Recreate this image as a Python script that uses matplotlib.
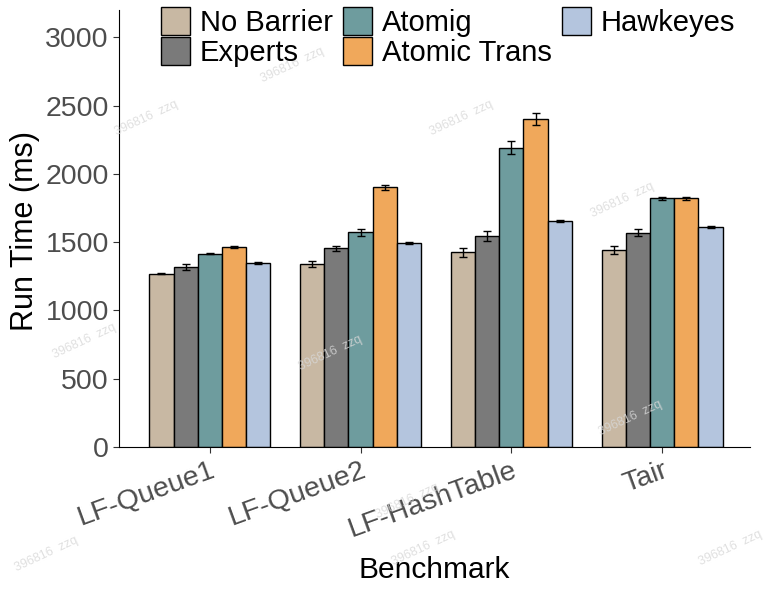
import numpy as np
import matplotlib
matplotlib.use("Agg")
import matplotlib.pyplot as plt

plt.rcParams['font.family'] = ['Liberation Sans', 'DejaVu Sans']

benchmarks = ["LF-Queue1", "LF-Queue2", "LF-HashTable", "Tair"]
series = ["No Barrier", "Experts", "Atomig", "Atomic Trans", "Hawkeyes"]
colors = ["#C8B8A3", "#7A7A7A", "#6E9C9E", "#F0A85B", "#B4C5DE"]

# run time (ms) per series, one value per benchmark
no_barrier = [1270, 1340, 1425, 1445]
experts = [1320, 1455, 1545, 1570]
atomig = [1415, 1572, 2192, 1820]
atomic_trans = [1465, 1902, 2400, 1820]
hawkeyes = [1345, 1492, 1655, 1612]

no_barrier_err = [5, 25, 30, 28]
experts_err = [22, 16, 38, 25]
atomig_err = [5, 25, 48, 12]
atomic_trans_err = [5, 20, 45, 12]
hawkeyes_err = [8, 8, 10, 7]

values = [no_barrier, experts, atomig, atomic_trans, hawkeyes]
errors = [no_barrier_err, experts_err, atomig_err, atomic_trans_err, hawkeyes_err]

fig = plt.figure(figsize=(7.69, 5.89), dpi=100)
ax = fig.add_axes([0.155, 0.241, 0.82, 0.742])

x = np.arange(len(benchmarks))
w = 0.16
for i in range(len(series)):
    ax.bar(x + (i - 2) * w, values[i], w, color=colors[i], edgecolor='black',
           linewidth=1, label=series[i], zorder=2)
    ax.errorbar(x + (i - 2) * w, values[i], yerr=errors[i], fmt='none',
                ecolor='black', elinewidth=1, capsize=3, capthick=1, zorder=3)

ax.set_xlim(-0.6, 3.58)
ax.set_ylim(0, 3200)
ax.set_yticks([0, 500, 1000, 1500, 2000, 2500, 3000])
ax.set_xticks(x)
ax.set_xticklabels(benchmarks, rotation=20, ha='right', rotation_mode='anchor')
ax.tick_params(axis='both', labelsize=20.5, labelcolor='#4D4D4D', color='#333333', length=4)
ax.spines['top'].set_visible(False)
ax.spines['right'].set_visible(False)
ax.set_ylabel("Run Time (ms)", fontsize=22)
ax.yaxis.set_label_coords(-0.125, 0.494)
ax.set_xlabel("Benchmark", fontsize=21.5)
ax.xaxis.set_label_coords(0.5, -0.25)

# legend, filled column by column
handles, labels = ax.get_legend_handles_labels()
fig.legend(handles, labels, loc='upper center', bbox_to_anchor=(0.583, 1.018), ncol=3,
           frameon=False, fontsize=21, handlelength=1.0, handleheight=1.1,
           handletextpad=0.33, columnspacing=0.35, labelspacing=0.0, borderaxespad=0.2)

# faint watermark
wm = [(0.19, 0.80), (0.60, 0.80), (0.38, 0.89), (0.43, 0.40), (0.11, 0.42),
      (0.81, 0.66), (0.82, 0.29), (0.06, 0.06), (0.55, 0.07), (0.95, 0.07), (0.53, 0.15)]
for wx, wy in wm:
    fig.text(wx, wy, "396816  zzq", fontsize=9, color='#D8D8D8', rotation=25,
             ha='center', va='center', alpha=0.8)

plt.savefig("out.png", dpi=100)
plt.close()
